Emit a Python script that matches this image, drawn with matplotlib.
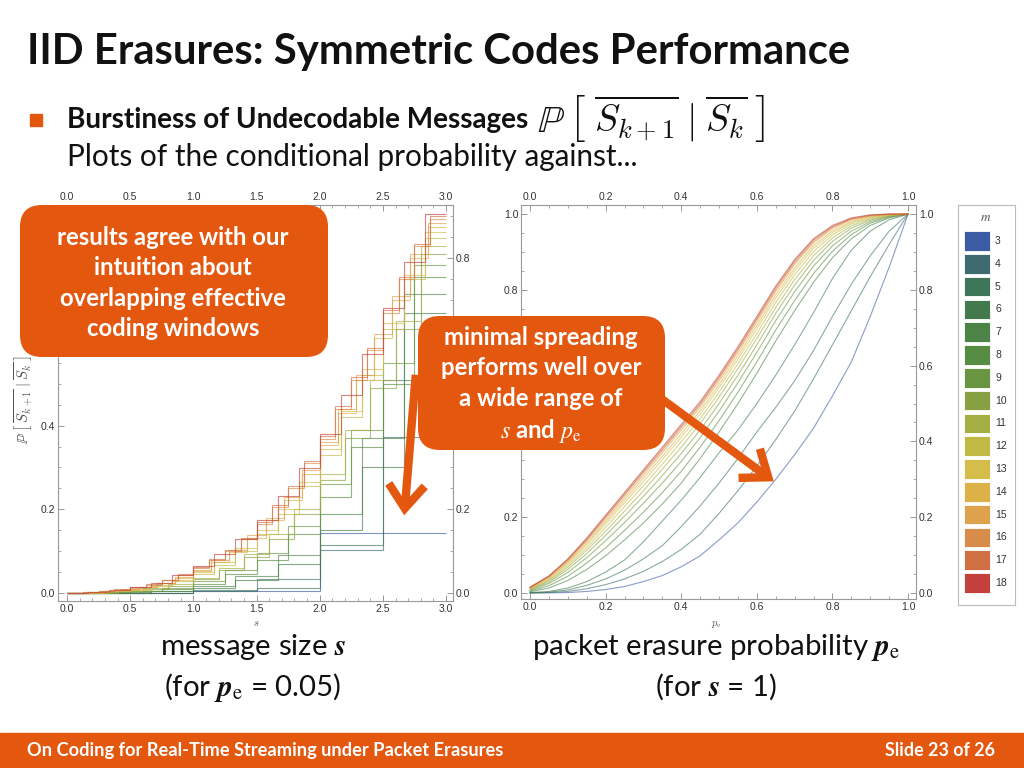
import numpy as np
import matplotlib
matplotlib.use("Agg")
import matplotlib.pyplot as plt
from matplotlib.patches import FancyBboxPatch, Rectangle, FancyArrowPatch
from matplotlib.ticker import MultipleLocator, FormatStrFormatter, FuncFormatter

plt.rcParams['mathtext.fontset'] = 'stix'
plt.rcParams['font.family'] = ['Lato', 'DejaVu Sans']

# ---- data -------------------------------------------------------------
m_values = [3, 4, 5, 6, 7, 8, 9, 10, 11, 12, 13, 14, 15, 16, 17, 18]
m_colors = ['#3b5ba5', '#3d6b70', '#3f7558', '#427a4e', '#4b8446', '#578c44',
            '#6a9540', '#86a042', '#a4ae42', '#c2b944', '#d4bd4a', '#dcb248',
            '#dea24c', '#d88c4a', '#d06e44', '#c3403d']

# left plot: P[..] vs message size s (pe = 0.05), one value per step
steps_per_unit = [1, 2, 2, 3, 3, 4, 4, 5, 5, 6, 6, 7, 7, 8, 8, 6]
s_m3 = [0.0, 0.005, 0.144]
s_m4 = [0.0, 0.0, 0.004, 0.012, 0.103, 0.372]
s_m5 = [0.0, 0.001, 0.008, 0.033, 0.115, 0.51]
s_m6 = [0.0, 0.001, 0.004, 0.012, 0.03, 0.07, 0.15, 0.30, 0.668]
s_m7 = [0.0, 0.002, 0.006, 0.016, 0.04, 0.09, 0.19, 0.37, 0.715]
s_m8 = [0.0, 0.001, 0.004, 0.01, 0.022, 0.045, 0.08, 0.14, 0.23, 0.35, 0.5, 0.755]
s_m9 = [0.0, 0.002, 0.006, 0.013, 0.028, 0.055, 0.095, 0.16, 0.26, 0.39, 0.55, 0.784]
s_m10 = [0.0, 0.001, 0.004, 0.009, 0.018, 0.033, 0.055, 0.085, 0.13, 0.19,
         0.27, 0.37, 0.49, 0.63, 0.81]
s_m11 = [0.0, 0.002, 0.005, 0.011, 0.021, 0.037, 0.06, 0.093, 0.14, 0.2,
         0.285, 0.39, 0.51, 0.65, 0.83]
s_m12 = [0.0, 0.001, 0.004, 0.008, 0.016, 0.028, 0.045, 0.068, 0.1, 0.14,
         0.19, 0.255, 0.33, 0.42, 0.52, 0.63, 0.75, 0.847]
s_m13 = [0.0, 0.002, 0.005, 0.01, 0.019, 0.032, 0.05, 0.075, 0.107, 0.15,
         0.2, 0.265, 0.345, 0.435, 0.535, 0.645, 0.76, 0.862]
s_m14 = [0.0, 0.001, 0.004, 0.008, 0.014, 0.023, 0.036, 0.053, 0.074, 0.099,
         0.132, 0.174, 0.222, 0.285, 0.354, 0.43, 0.51, 0.61, 0.70, 0.80, 0.875]
s_m15 = [0.001, 0.002, 0.005, 0.009, 0.015, 0.025, 0.038, 0.056, 0.078, 0.104,
         0.138, 0.18, 0.23, 0.293, 0.362, 0.44, 0.52, 0.62, 0.71, 0.81, 0.885]
s_m16 = [0.001, 0.002, 0.004, 0.008, 0.013, 0.02, 0.03, 0.043, 0.059, 0.078,
         0.1, 0.128, 0.166, 0.205, 0.25, 0.31, 0.368, 0.44, 0.51, 0.58,
         0.67, 0.75, 0.83, 0.893]
s_m17 = [0.001, 0.003, 0.005, 0.009, 0.014, 0.021, 0.031, 0.045, 0.062, 0.081,
         0.104, 0.132, 0.17, 0.21, 0.256, 0.316, 0.374, 0.446, 0.516, 0.586,
         0.676, 0.756, 0.835, 0.90]
s_m18 = [0.001, 0.003, 0.007, 0.014, 0.025, 0.042, 0.064, 0.093, 0.13, 0.175,
         0.231, 0.298, 0.38, 0.472, 0.572, 0.682, 0.792, 0.905]
left_series = [s_m3, s_m4, s_m5, s_m6, s_m7, s_m8, s_m9, s_m10, s_m11,
               s_m12, s_m13, s_m14, s_m15, s_m16, s_m17, s_m18]

# right plot: P[..] vs packet erasure probability pe (s = 1)
pe_grid = [0.0, 0.05, 0.1, 0.15, 0.2, 0.25, 0.3, 0.35, 0.4, 0.45, 0.5,
           0.55, 0.6, 0.65, 0.7, 0.75, 0.8, 0.85, 0.9, 0.95, 1.0]
p_m3 = [0.0, 0.0002, 0.001, 0.004, 0.009, 0.017, 0.03, 0.046, 0.069, 0.098, 0.14,
        0.185, 0.24, 0.30, 0.365, 0.435, 0.52, 0.61, 0.73, 0.86, 1.0]
p_m4 = [0.0, 0.001, 0.004, 0.011, 0.022, 0.037, 0.057, 0.083, 0.115, 0.155, 0.21,
        0.27, 0.335, 0.405, 0.48, 0.565, 0.655, 0.745, 0.835, 0.92, 1.0]
p_m5 = [0.0, 0.002, 0.008, 0.02, 0.037, 0.06, 0.09, 0.125, 0.175, 0.23, 0.29,
        0.355, 0.425, 0.49, 0.56, 0.64, 0.73, 0.815, 0.89, 0.955, 1.0]
p_m6 = [0.001, 0.004, 0.013, 0.03, 0.055, 0.087, 0.135, 0.19, 0.245, 0.305, 0.37,
        0.43, 0.50, 0.575, 0.655, 0.74, 0.83, 0.905, 0.955, 0.985, 1.0]
p_m7 = [0.003, 0.013, 0.033, 0.062, 0.098, 0.14, 0.185, 0.235, 0.29, 0.355, 0.425,
        0.50, 0.58, 0.665, 0.745, 0.82, 0.885, 0.935, 0.97, 0.99, 1.0]
p_m8 = [0.005, 0.019, 0.044, 0.079, 0.119, 0.165, 0.213, 0.265, 0.321, 0.385, 0.455,
        0.53, 0.61, 0.694, 0.772, 0.843, 0.902, 0.946, 0.976, 0.992, 1.0]
p_m9 = [0.007, 0.025, 0.054, 0.093, 0.138, 0.186, 0.237, 0.29, 0.347, 0.41, 0.48,
        0.555, 0.635, 0.719, 0.795, 0.863, 0.916, 0.955, 0.98, 0.994, 1.0]
p_m10 = [0.009, 0.029, 0.062, 0.104, 0.152, 0.203, 0.255, 0.31, 0.368, 0.43, 0.50,
         0.575, 0.655, 0.738, 0.813, 0.878, 0.928, 0.963, 0.984, 0.995, 1.0]
p_m11 = [0.010, 0.033, 0.068, 0.113, 0.163, 0.216, 0.27, 0.327, 0.385, 0.447, 0.517,
         0.592, 0.672, 0.753, 0.827, 0.89, 0.937, 0.969, 0.987, 0.996, 1.0]
p_m12 = [0.011, 0.035, 0.073, 0.12, 0.173, 0.228, 0.283, 0.34, 0.399, 0.46, 0.53,
         0.605, 0.685, 0.767, 0.84, 0.901, 0.945, 0.974, 0.99, 0.997, 1.0]
p_m13 = [0.012, 0.038, 0.078, 0.127, 0.182, 0.238, 0.294, 0.352, 0.411, 0.472, 0.542,
         0.617, 0.697, 0.778, 0.85, 0.91, 0.951, 0.978, 0.992, 0.998, 1.0]
p_m14 = [0.013, 0.04, 0.081, 0.132, 0.188, 0.245, 0.303, 0.361, 0.42, 0.481, 0.551,
         0.626, 0.706, 0.787, 0.858, 0.917, 0.956, 0.981, 0.994, 0.998, 1.0]
p_m15 = [0.014, 0.042, 0.084, 0.137, 0.194, 0.252, 0.311, 0.37, 0.43, 0.49, 0.56,
         0.635, 0.715, 0.796, 0.867, 0.924, 0.962, 0.985, 0.995, 0.999, 1.0]
p_m16 = [0.014, 0.043, 0.087, 0.14, 0.199, 0.258, 0.317, 0.376, 0.436, 0.496, 0.566,
         0.641, 0.721, 0.801, 0.872, 0.928, 0.965, 0.987, 0.996, 1.0, 1.0]
p_m17 = [0.015, 0.044, 0.088, 0.142, 0.202, 0.261, 0.321, 0.38, 0.44, 0.50, 0.57,
         0.645, 0.725, 0.806, 0.876, 0.932, 0.967, 0.988, 0.997, 1.0, 1.0]
p_m18 = [0.015, 0.045, 0.09, 0.145, 0.205, 0.265, 0.325, 0.385, 0.445, 0.505, 0.575,
         0.65, 0.73, 0.81, 0.88, 0.935, 0.97, 0.99, 0.998, 1.0, 1.0]
right_series = [p_m3, p_m4, p_m5, p_m6, p_m7, p_m8, p_m9, p_m10, p_m11,
                p_m12, p_m13, p_m14, p_m15, p_m16, p_m17, p_m18]

# ---- figure -------------------------------------------------------------
W, H = 1024, 768
ORANGE = '#e4570e'
PMATH = r'$\mathbb{P}\,\left[\;\overline{S_{k+1}}\;\vert\;\overline{S_k}\;\right]$'
fig = plt.figure(figsize=(10.24, 7.68), dpi=100)
renderer = fig.canvas.get_renderer()


def fx(x):
    return x / W


def fy(y):
    return 1 - y / H


def put(x, y, s, size=20, width=None, ha='left', va='baseline', **kw):
    t = fig.text(fx(x), fy(y), s, fontsize=size, ha=ha, va=va, **kw)
    if width:
        w = t.get_window_extent(renderer).width
        t.set_fontsize(size * width / w)
    return t


def style_axes(ax, xmaj, xmin, ymaj, ymin):
    ax.xaxis.set_major_locator(MultipleLocator(xmaj))
    ax.xaxis.set_minor_locator(MultipleLocator(xmin))
    ax.yaxis.set_major_locator(MultipleLocator(ymaj))
    ax.yaxis.set_minor_locator(MultipleLocator(ymin))
    ax.xaxis.set_major_formatter(FormatStrFormatter('%.1f'))
    ax.tick_params(which='both', direction='in', top=True, right=True,
                   labeltop=True, labelleft=False, labelright=False,
                   labelsize=7.5, labelfontfamily='Liberation Sans',
                   color='#888', labelcolor='#333', pad=2)
    ax.tick_params(which='major', length=4, width=0.6)
    ax.tick_params(which='minor', length=2, width=0.5)
    for sp in ax.spines.values():
        sp.set_color('#999')
        sp.set_linewidth(0.8)


def y_labels(ax, side, step, hidden):
    # y tick labels of one side; the hidden ones sit under a callout box
    sec = ax.secondary_yaxis(side)
    sec.yaxis.set_major_locator(MultipleLocator(step))
    sec.yaxis.set_major_formatter(FuncFormatter(
        lambda v, p: '' if any(abs(v - h) < 1e-6 for h in hidden) else f'{v:.1f}'))
    sec.tick_params(length=0, labelsize=7.5, labelfontfamily='Liberation Sans',
                    labelcolor='#333', pad=2)
    sec.spines[side].set_visible(False)


# left plot
axL = fig.add_axes([fx(58), fy(601), (453 - 58) / W, (601 - 205) / H])
for vals, n, col in zip(left_series, steps_per_unit, m_colors):
    edges = np.arange(len(vals) + 1) / n
    axL.stairs(vals, edges, baseline=None, color=col, lw=0.8, alpha=0.65)
axL.set_xlim(-0.071, 3.055)
axL.set_ylim(-0.019, 0.927)
style_axes(axL, 0.5, 0.1, 0.2, 0.05)
y_labels(axL, 'left', 0.2, [0.6])
y_labels(axL, 'right', 0.2, [0.4, 0.6])

# right plot
axR = fig.add_axes([fx(521), fy(599), (916 - 521) / W, (599 - 205) / H])
for vals, col in zip(right_series, m_colors):
    axR.plot(pe_grid, vals, color=col, lw=0.8, alpha=0.6)
axR.set_xlim(-0.024, 1.021)
axR.set_ylim(-0.016, 1.024)
style_axes(axR, 0.2, 0.05, 0.2, 0.05)
y_labels(axR, 'left', 0.2, [0.4, 0.6])
y_labels(axR, 'right', 0.2, [])

# legend
axG = fig.add_axes([fx(958), fy(605), 57 / W, 400 / H])
rows = np.arange(len(m_values))
axG.barh(rows, 26, left=6, height=0.86, color=m_colors, edgecolor='white', lw=0.6)
for r, m in zip(rows, m_values):
    axG.text(37, r, str(m), fontsize=7.5, va='center', ha='left', color='#333',
             family='Liberation Sans')
axG.text(28, -1.05, r'$m$', fontsize=9.5, ha='center', va='center', color='#555')
axG.set_xlim(0, 57)
axG.set_ylim(15.96, -1.58)
axG.set_xticks([])
axG.set_yticks([])
for sp in axG.spines.values():
    sp.set_color('#bbb')
    sp.set_linewidth(0.8)

# axis labels
put(24, 400, PMATH, size=10.5, ha='center', va='center', rotation=90, color='#555',
    math_fontfamily='cm')
put(256, 626, r'$s$', size=7.5, ha='center', color='#555', math_fontfamily='cm')
put(716, 626, r'$p_\mathrm{e}$', size=7.5, ha='center', color='#555',
    math_fontfamily='cm')

# ---- slide decoration ---------------------------------------------------
put(27, 64, 'IID Erasures: Symmetric Codes Performance', size=30, width=823,
    weight='bold', color='#111')
fig.add_artist(Rectangle((fx(30), fy(126)), 12 / W, 12 / H, color=ORANGE,
                         transform=fig.transFigure))
put(67, 128, 'Burstiness of Undecodable Messages', size=17, width=463,
    weight='bold', color='#111')
put(537, 118, PMATH, size=20, width=228, va='center', color='#111',
    math_fontfamily='cm')
put(67, 166, 'Plots of the conditional probability against...', size=17,
    width=570, color='#111')


def callout(x0, y0, x1, y1):
    box = FancyBboxPatch(((x0 + 22) / 100, (H - y1 + 22) / 100),
                         (x1 - x0 - 44) / 100, (y1 - y0 - 44) / 100,
                         boxstyle='round,pad=0.22,rounding_size=0.22',
                         transform=fig.dpi_scale_trans, fc=ORANGE, ec='none',
                         zorder=5)
    fig.add_artist(box)


def arrow(x0, y0, x1, y1):
    a = FancyArrowPatch((x0 / 100, (H - y0) / 100), (x1 / 100, (H - y1) / 100),
                        arrowstyle='->,head_length=1.7,head_width=1.3',
                        mutation_scale=10, lw=6, color=ORANGE,
                        transform=fig.dpi_scale_trans, zorder=4,
                        capstyle='butt', joinstyle='miter')
    fig.add_artist(a)


arrow(416, 372, 404, 518)
arrow(625, 372, 776, 483)
callout(20, 205, 328, 357)
callout(418, 316, 665, 450)

t = put(173, 245, 'results agree with our', size=15, width=232, ha='center',
        weight='bold', color='white', zorder=6)
bsz = t.get_fontsize()
for y, s in [(275, 'intuition about'), (306, 'overlapping effective'),
             (336, 'coding windows')]:
    put(173, y, s, size=bsz, ha='center', weight='bold', color='white', zorder=6)
for y, s in [(345, 'minimal spreading'), (375, 'performs well over'),
             (406, 'a wide range of'),
             (438, r'$\mathit{s}$ and $\mathit{p}_\mathrm{e}$')]:
    put(541, y, s, size=bsz, ha='center', weight='bold', color='white', zorder=6)

# captions
t = put(716, 655, r'packet erasure probability $\mathbfit{p}_\mathrm{e}$',
        size=17, width=369, ha='center', color='#111')
csz = t.get_fontsize()
put(253, 655, r'message size $\mathbfit{s}$', size=csz, ha='center', color='#111')
put(253, 696, r'(for $\mathbfit{p}_\mathrm{e}$ = 0.05)', size=csz, ha='center', color='#111')
put(716, 696, r'(for $\mathbfit{s}$ = 1)', size=csz, ha='center', color='#111')

# footer
fig.add_artist(Rectangle((0, 0), 1, 35 / H, color=ORANGE, transform=fig.transFigure))
put(27, 756, 'On Coding for Real-Time Streaming under Packet Erasures', size=11,
    width=473, weight='bold', color='white')
put(995, 756, 'Slide 23 of 26', size=11, width=110, ha='right', weight='bold',
    color='white')

fig.savefig('out.png', dpi=100)
